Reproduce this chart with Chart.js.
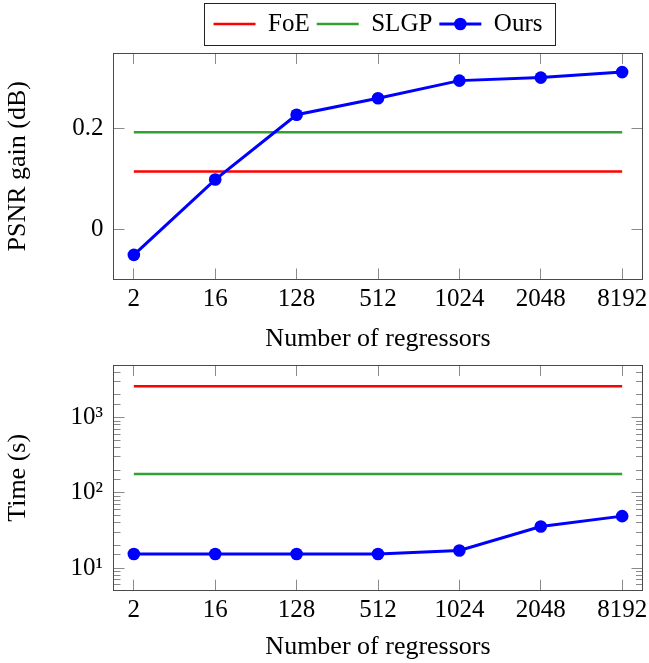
<!DOCTYPE html>
<html>
<head>
<meta charset="utf-8">
<script src="https://cdn.jsdelivr.net/npm/chart.js@4/dist/chart.umd.min.js"></script>
<style>
html,body{margin:0;padding:0;background:#fff;width:649px;height:663px;overflow:hidden}
#c1{position:absolute;left:0;top:0}
#c2{position:absolute;left:0;top:360px}
</style>
</head>
<body>
<canvas id="c1" width="649" height="360"></canvas>
<canvas id="c2" width="649" height="303"></canvas>
<script>
// ---- data ----
const categories = ['2', '16', '128', '512', '1024', '2048', '8192'];

const psnrFoE  = [0.115, 0.115, 0.115, 0.115, 0.115, 0.115, 0.115];
const psnrSLGP = [0.193, 0.193, 0.193, 0.193, 0.193, 0.193, 0.193];
const psnrOurs = [-0.051, 0.099, 0.228, 0.261, 0.296, 0.302, 0.313];

const timeFoE  = [2600, 2600, 2600, 2600, 2600, 2600, 2600];
const timeSLGP = [178, 178, 178, 178, 178, 178, 178];
const timeOurs = [15.4, 15.4, 15.4, 15.4, 17.1, 35.6, 49.0];

const psnrTicks = [0, 0.2];
const psnrTickLabels = ['0', '0.2'];
const timeTickLabels = { 10: '10\u00B9', 100: '10\u00B2', 1000: '10\u00B3' };

// ---- styling ----
const FONT = '"Liberation Serif", "Times New Roman", serif';
Chart.defaults.font.family = FONT;
Chart.defaults.font.size = 25;
Chart.defaults.color = '#000';

const RED = '#ff0000', GREEN = '#33a033', BLUE = '#0000ff';
const TICK = '#8a8a8a', BORDER = { color: '#4a4a4a', width: 1 };

function isDecade(v) {
  const l = Math.log10(v);
  return Math.abs(l - Math.round(l)) < 1e-6;
}
function gridOpts(side, log) {
  return {
    drawOnChartArea: false,
    drawTicks: true,
    tickLength: -11,
    tickWidth: 1,
    tickColor: TICK,
    tickBorderDash: (ctx) => {
      if (!log || !ctx.tick || isDecade(ctx.tick.value)) return [];
      return side === 'left' ? [7, 4] : [7, 100];
    },
    tickBorderDashOffset: (ctx) => {
      if (!log || !ctx.tick || isDecade(ctx.tick.value)) return 0;
      return side === 'left' ? 7 : 0;
    }
  };
}
function fixSize(prop, val) {
  return (s) => {
    s[prop] = val;
    s.paddingTop = 0; s.paddingBottom = 0; s.paddingLeft = 0; s.paddingRight = 0;
  };
}
const catTicks = (scale) => { scale.ticks = categories.map((c, i) => ({ value: i })); };
const pts = (arr) => arr.map((v, i) => ({ x: i, y: v }));

function datasets(foe, slgp, ours) {
  return [
    { label: 'FoE', data: pts(foe), borderColor: RED, backgroundColor: RED, borderWidth: 2.5,
      pointRadius: 0, pointHoverRadius: 0, order: 2 },
    { label: 'SLGP', data: pts(slgp), borderColor: GREEN, backgroundColor: GREEN, borderWidth: 2.5,
      pointRadius: 0, pointHoverRadius: 0, order: 1 },
    { label: 'Ours', data: pts(ours), borderColor: BLUE, backgroundColor: BLUE, borderWidth: 3,
      pointRadius: 6.3, pointHoverRadius: 6.3, pointBorderWidth: 0, pointBackgroundColor: BLUE, order: 0 }
  ];
}

function xScales(xHeight, x2Height, titlePadBottom) {
  return {
    x: {
      type: 'linear', axis: 'x', position: 'bottom', min: -0.25, max: 6.25,
      afterBuildTicks: catTicks,
      afterFit: fixSize('height', xHeight),
      ticks: { autoSkip: false, maxRotation: 0, padding: 15.5, callback: (v) => categories[v] ?? '' },
      grid: gridOpts('bottom', false), border: BORDER,
      title: { display: true, text: 'Number of regressors', font: { size: 26 },
               padding: { top: 0, bottom: titlePadBottom } }
    },
    x2: {
      type: 'linear', axis: 'x', position: 'top', min: -0.25, max: 6.25,
      afterBuildTicks: catTicks,
      afterFit: fixSize('height', x2Height),
      ticks: { display: false },
      grid: gridOpts('top', false), border: BORDER
    }
  };
}

// legend frame + marker on the "Ours" legend entry
const legendDecor = {
  id: 'legendDecor',
  afterDraw(chart) {
    const lg = chart.legend;
    if (!lg || !lg.legendHitBoxes || !lg.legendHitBoxes.length) return;
    const hb = lg.legendHitBoxes;
    const ctx = chart.ctx;
    const bw = lg.options.labels.pointStyleWidth;
    const fs = lg.options.labels.font.size;
    ctx.save();
    chart.data.datasets.forEach((ds, i) => {
      if (ds.pointRadius > 0 && hb[i]) {
        ctx.beginPath();
        ctx.arc(hb[i].left + bw / 2, hb[i].top + fs / 2, ds.pointRadius, 0, Math.PI * 2);
        ctx.fillStyle = ds.pointBackgroundColor;
        ctx.fill();
      }
    });
    const last = hb[hb.length - 1];
    const left = Math.round(hb[0].left - 9.5);
    const right = Math.round(last.left + last.width + 12.5);
    ctx.strokeStyle = '#222';
    ctx.lineWidth = 1;
    ctx.strokeRect(left + 0.5, 3.5, right - left, 42);
    ctx.restore();
  }
};

// ---- top chart: PSNR gain ----
new Chart(document.getElementById('c1'), {
  type: 'line',
  data: { datasets: datasets(psnrFoE, psnrSLGP, psnrOurs) },
  options: {
    responsive: false, animation: false, devicePixelRatio: 1,
    layout: { autoPadding: false, padding: { top: 4.5, left: 0, right: 0, bottom: 0 } },
    plugins: {
      tooltip: { enabled: false },
      legend: {
        display: true, position: 'top', align: 'center', fullSize: false,
        labels: {
          usePointStyle: true, pointStyleWidth: 42, padding: 7,
          font: { family: FONT, size: 25 }, color: '#000',
          generateLabels: (chart) => chart.data.datasets.map((ds, i) => ({
            text: ds.label, fillStyle: ds.borderColor, strokeStyle: ds.borderColor,
            lineWidth: ds.borderWidth, pointStyle: 'line', hidden: false,
            datasetIndex: i, fontColor: '#000'
          }))
        }
      }
    },
    scales: Object.assign(xScales(80.5, 6.5, 5.5), {
      y: {
        type: 'linear', position: 'left', min: -0.1, max: 0.351,
        afterBuildTicks: (s) => { s.ticks = psnrTicks.map((v) => ({ value: v })); },
        afterFit: fixSize('width', 113.5),
        ticks: { padding: 21, callback: (v) => psnrTickLabels[psnrTicks.indexOf(v)] ?? '' },
        grid: gridOpts('left', false), border: BORDER,
        title: { display: true, text: 'PSNR gain (dB)', font: { size: 26 }, padding: { top: 3, bottom: 0 } }
      },
      y2: {
        type: 'linear', axis: 'y', position: 'right', min: -0.1, max: 0.351,
        afterBuildTicks: (s) => { s.ticks = psnrTicks.map((v) => ({ value: v })); },
        afterFit: fixSize('width', 6.5),
        ticks: { display: false },
        grid: gridOpts('right', false), border: BORDER
      }
    })
  },
  plugins: [legendDecor]
});

// ---- bottom chart: Time ----
new Chart(document.getElementById('c2'), {
  type: 'line',
  data: { datasets: datasets(timeFoE, timeSLGP, timeOurs) },
  options: {
    responsive: false, animation: false, devicePixelRatio: 1,
    layout: { autoPadding: false, padding: 0 },
    plugins: { tooltip: { enabled: false }, legend: { display: false } },
    scales: Object.assign(xScales(72.3, 5, 0), {
      y: {
        type: 'logarithmic', position: 'left', min: 5, max: 5000,
        afterFit: fixSize('width', 113.5),
        ticks: { autoSkip: false, padding: 21.5, callback: (v) => timeTickLabels[Math.round(v)] ?? '' },
        grid: gridOpts('left', true), border: BORDER,
        title: { display: true, text: 'Time (s)', font: { size: 26 }, padding: { top: 3, bottom: 0 } }
      },
      y2: {
        type: 'logarithmic', axis: 'y', position: 'right', min: 5, max: 5000,
        afterFit: fixSize('width', 6.5),
        ticks: { display: false, autoSkip: false },
        grid: gridOpts('right', true), border: BORDER
      }
    })
  }
});
</script>
</body>
</html>
